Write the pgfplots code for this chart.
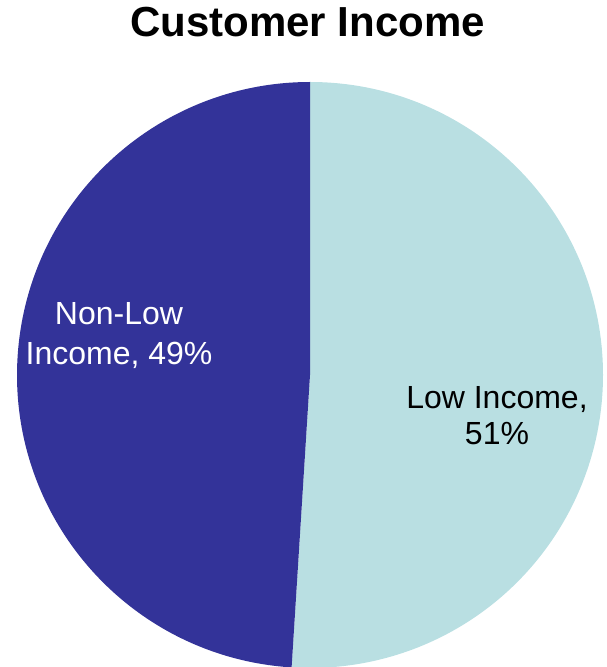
\documentclass[border=0pt]{standalone}
\usepackage{pgfplots}
\usepackage{pgfplotstable}
\pgfplotsset{compat=1.18}
\usepackage{fontspec}
\setmainfont{Liberation Sans}
\definecolor{darkslice}{HTML}{333399}
\definecolor{lightslice}{HTML}{B9DFE2}
\pgfplotstableread[col sep=comma]{
label,value
Low Income,51
Non-Low Income,49
}\piedata
\begin{document}
\begin{tikzpicture}
\pgfplotstablegetelem{0}{value}\of\piedata
\pgfmathtruncatemacro\lowval{\pgfplotsretval}
\pgfplotstablegetelem{1}{value}\of\piedata
\pgfmathtruncatemacro\nonval{\pgfplotsretval}
\pgfmathsetmacro\angA{90-3.6*\lowval}
\pgfmathsetmacro\angB{\angA-3.6*\nonval}
\begin{axis}[
  width=606pt, height=667pt, scale only axis,
  xmin=-310, xmax=296, ymin=-292, ymax=375,
  hide axis, clip=true,
]
\fill[lightslice] (axis cs:0,0) -- (axis cs:0,293) arc[start angle=90, end angle=\angA, radius=293pt] -- cycle;
\fill[darkslice] (axis cs:0,0) -- (axis cs:{293*cos(\angA)},{293*sin(\angA)}) arc[start angle=\angA, end angle=\angB, radius=293pt] -- cycle;
\node[anchor=base, font=\fontsize{42}{50}\selectfont\bfseries] at (axis cs:-2.5,338) {Customer Income};
\node[anchor=base, text=white, font=\fontsize{32}{38}\selectfont] at (axis cs:-191,50) {Non-Low};
\node[anchor=base, text=white, font=\fontsize{32}{38}\selectfont] at (axis cs:-191,10) {Income, \nonval\%};
\node[anchor=base, font=\fontsize{32}{38}\selectfont] at (axis cs:187,-34) {Low Income,};
\node[anchor=base, font=\fontsize{32}{38}\selectfont] at (axis cs:187,-70) {\lowval\%};
\end{axis}
\pgfresetboundingbox
\path (current axis.south west) rectangle (current axis.north east);
\end{tikzpicture}
\end{document}
